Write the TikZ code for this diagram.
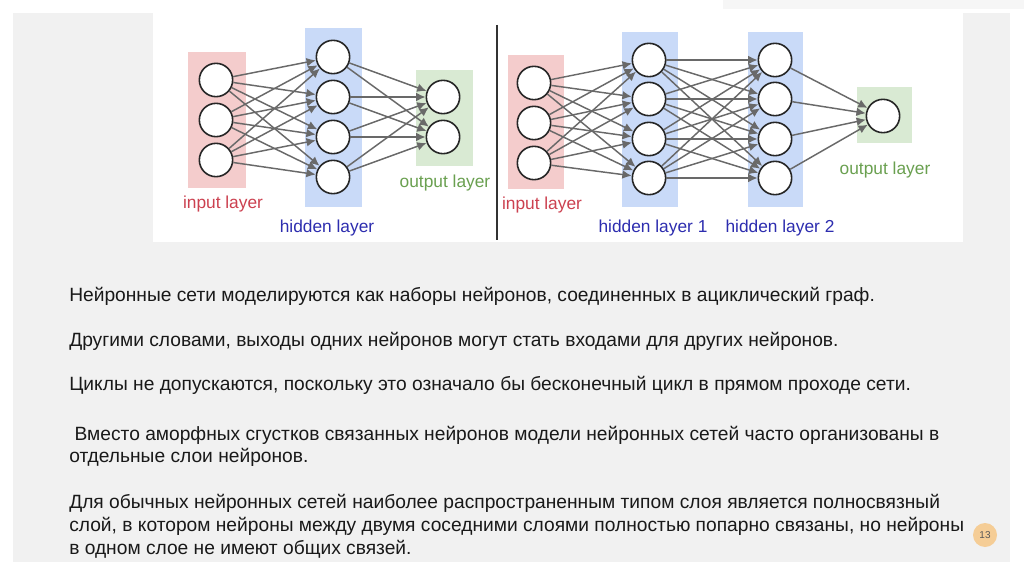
\documentclass[tikz,border=0pt]{standalone}
\usepackage{fontspec}
\setmainfont{Liberation Sans}
\usetikzlibrary{arrows.meta}

\definecolor{panelgray}{RGB}{241,241,241}
\definecolor{stripgray}{RGB}{246,246,246}
\definecolor{inpink}{RGB}{244,204,204}
\definecolor{hidblue}{RGB}{201,218,248}
\definecolor{outgreen}{RGB}{217,234,211}
\definecolor{inred}{RGB}{204,65,80}
\definecolor{hidtext}{RGB}{45,45,175}
\definecolor{outtext}{RGB}{106,160,80}
\definecolor{edgegray}{RGB}{105,105,105}
\definecolor{badge}{RGB}{245,205,150}

\begin{document}
\begin{tikzpicture}[x=0.75pt, y=-0.75pt, >={Latex[length=7pt,width=6.5pt]},
	neuron/.style={circle, draw=black!85, line width=1.2pt, fill=white, minimum size=25pt, inner sep=0pt},
	edge/.style={->, draw=edgegray, line width=1.1pt},
	lbl/.style={inner sep=0pt, font=\fontsize{13}{15}\selectfont},
	body/.style={anchor=base west, inner sep=0pt, text=black!90, font=\fontsize{14.4}{17}\selectfont}]
	\useasboundingbox (0,0) rectangle (1024,574);
	% slide background
	\fill[white] (0,0) rectangle (1024,574);
	\fill[stripgray] (723,0) rectangle (1024,9);
	\fill[panelgray] (13,13) rectangle (1010,562);
	\fill[white] (153,9) rectangle (963,242);
	\draw[black!80, line width=0.8pt] (497,25) -- (497,240);
	% layer boxes
	\fill[inpink] (188,52) rectangle (246,188);
	\fill[hidblue] (305,28) rectangle (362,207);
	\fill[outgreen] (416,70) rectangle (473,166);
	\fill[inpink] (508,55) rectangle (564,189);
	\fill[hidblue] (622,32) rectangle (678,207);
	\fill[hidblue] (748,32) rectangle (803,207);
	\fill[outgreen] (857,87) rectangle (912,143);
	% left net
	\foreach \y [count=\i] in {80,120,160} \node[neuron] (iA\i) at (216,\y) {};
	\foreach \y [count=\i] in {57,97,137,177} \node[neuron] (hA\i) at (333,\y) {};
	\foreach \y [count=\i] in {97,137} \node[neuron] (oA\i) at (443,\y) {};
	\foreach \i in {1,2,3} \foreach \j in {1,...,4} \draw[edge] (iA\i) -- (hA\j);
	\foreach \i in {1,...,4} \foreach \j in {1,2} \draw[edge] (hA\i) -- (oA\j);
	% right net
	\foreach \y [count=\i] in {83,123,163} \node[neuron] (iB\i) at (534,\y) {};
	\foreach \y [count=\i] in {60,99,139,178} {
		\node[neuron] (hB\i) at (649,\y) {};
		\node[neuron] (gB\i) at (775,\y) {};
	}
	\node[neuron] (oB1) at (883,116) {};
	\foreach \i in {1,2,3} \foreach \j in {1,...,4} \draw[edge] (iB\i) -- (hB\j);
	\foreach \i in {1,...,4} \foreach \j in {1,...,4} \draw[edge] (hB\i) -- (gB\j);
	\foreach \i in {1,...,4} \draw[edge] (gB\i) -- (oB1);
	% layer names
	\node[lbl, text=inred] (inA) at (223,204) {input layer};
	\node[lbl, text=hidtext] (hidA) at (327,228) {hidden layer};
	\node[lbl, text=outtext] (outA) at (445,183) {output layer};
	\node[lbl, text=inred] (inB) at (542,205) {input layer};
	\node[lbl, text=hidtext] (hidB) at (653,228) {hidden layer 1};
	\node[lbl, text=hidtext] (hidC) at (780,228) {hidden layer 2};
	\node[lbl, text=outtext] (outB) at (885,170) {output layer};
	% text
	\node[body] (t1) at (69,301) {Нейронные сети моделируются как наборы нейронов, соединенных в ациклический граф.};
	\node[body] (t2) at (69,346) {Другими словами, выходы одних нейронов могут стать входами для других нейронов.};
	\node[body] (t3) at (69,390) {Циклы не допускаются, поскольку это означало бы бесконечный цикл в прямом проходе сети.};
	\node[body] (t4a) at (69,440) {\ Вместо аморфных сгустков связанных нейронов модели нейронных сетей часто организованы в};
	\node[body] (t4b) at (69,462) {отдельные слои нейронов.};
	\node[body] (t5a) at (69,508) {Для обычных нейронных сетей наиболее распространенным типом слоя является полносвязный};
	\node[body] (t5b) at (69,531) {слой, в котором нейроны между двумя соседними слоями полностью попарно связаны, но нейроны};
	\node[body] (t5c) at (69,554) {в одном слое не имеют общих связей.};
	\node[circle, fill=badge, minimum size=18pt, inner sep=0pt, text=black!65, font=\fontsize{7.5}{8}\selectfont] (pg) at (985,535) {13};
\end{tikzpicture}
\end{document}
